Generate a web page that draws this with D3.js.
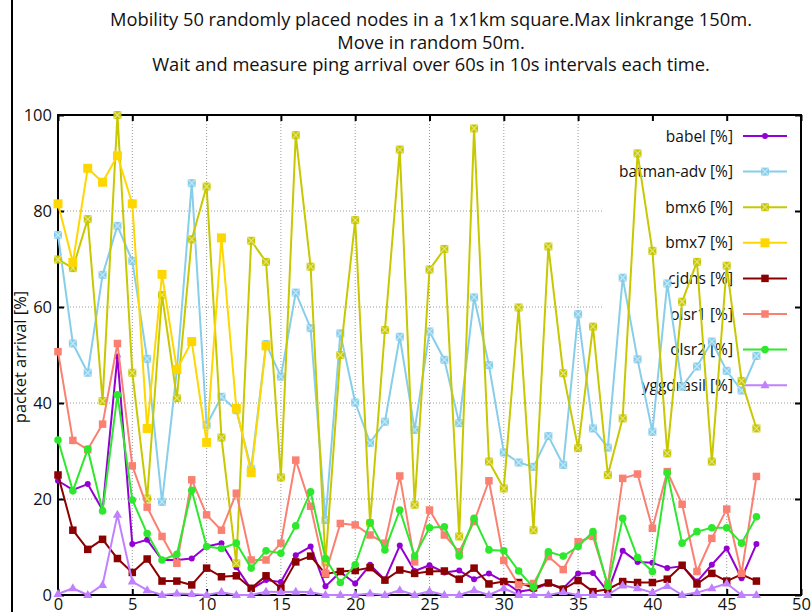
<!DOCTYPE html>
<html>
<head>
<meta charset="utf-8">
<script src="https://cdn.jsdelivr.net/npm/d3@7"></script>
<style>
  body { margin: 0; background: #fff; }
  text { font-family: "Open Sans", "DejaVu Sans", sans-serif; fill: #111; }
</style>
</head>
<body>
<svg id="chart" width="811" height="612"></svg>
<script>
// data (packet arrival in %)
var titleLines = [
  "Mobility 50 randomly placed nodes in a 1x1km square.Max linkrange 150m.",
  "Move in random 50m.",
  "Wait and measure ping arrival over 60s in 10s intervals each time."
];
var xTicks = [0, 5, 10, 15, 20, 25, 30, 35, 40, 45, 50];
var yTicks = [0, 20, 40, 60, 80, 100];

var babel = [23.8, 21.9, 23.1, 17.7, 49.7, 10.6, 11.5, 7.3, 7.3, 7.6, 10.1, 10.8, 5.8, 1.2, 3.1, 2.7,
  8.3, 10.1, 1.8, 4.8, 2.4, 6.3, 3.2, 10.3, 5.0, 6.2, 4.7, 5.1, 3.3, 4.5, 2.8, 0.7,
  1.2, 2.4, 1.4, 4.5, 4.6, 0.7, 9.2, 6.9, 6.7, 5.6, 6.0, 2.8, 6.3, 9.7, 3.5, 10.6];
var batman = [75, 52.4, 46.3, 66.7, 76.9, 69.6, 49.2, 19.4, 46.8, 85.8, 35.4, 41.3, 38.5, 26.3, 52.3, 45.5,
  63, 55.6, 15.6, 54.5, 40.1, 31.7, 36.1, 53.8, 34.4, 54.9, 49, 35.8, 62, 47.9, 29.7, 27.6,
  26.7, 33.1, 27.1, 58.5, 34.7, 30.7, 66.1, 49.1, 34, 64.9, 43.4, 47.6, 52.8, 46.7, 42.6, 49.8];
var bmx6 = [69.9, 68.1, 78.3, 40.4, 100, 46.3, 20.1, 62.5, 41, 74.1, 85.1, 32.8, 6.6, 73.8, 69.4, 24.5,
  95.8, 68.4, 6.8, 50, 78.1, 15, 55.2, 92.8, 18.8, 67.8, 72.1, 12.2, 97.2, 27.8, 22.2, 59.9,
  13.5, 72.6, 46.2, 30.6, 55.9, 25, 36.8, 92, 71.7, 29.5, 61.1, 69.4, 27.8, 68.6, 44.6, 34.7];
var bmx7 = [81.5, 69.3, 88.9, 86, 91.5, 81.5, 34.7, 66.8, 47, 52.8, 31.8, 74.4, 38.9, 25.5, 51.9];
var cjdns = [25, 13.5, 9.5, 11.6, 7.6, 4.7, 7.5, 2.9, 2.9, 2.1, 5.6, 3.8, 4, 1.4, 4, 1.4,
  6.9, 8.1, 4.4, 4.9, 5.1, 5.7, 3.1, 5.2, 4.5, 4.9, 5, 3.3, 5.6, 2.3, 2.8, 2.6,
  1.5, 2.5, 1.2, 3, 0.7, 1.2, 2.8, 2.6, 2.6, 3.3, 6.2, 2.3, 4.5, 2.9, 4.3, 2.9];
var olsr1 = [50.7, 32.2, 30.3, 35.6, 52.4, 26.9, 18.3, 12.2, 6.6, 24, 16.7, 13.5, 21.2, 7.3, 7.3, 10.8,
  28.1, 18.5, 4.5, 14.9, 14.6, 12.5, 10.8, 24.8, 6.9, 17.7, 12.5, 9, 15.3, 23.8, 7.2, 2.1,
  2.4, 8, 5.3, 11.1, 12.2, 2.2, 24.3, 25.2, 13.9, 25.7, 18.9, 4.9, 11.8, 17.9, 4.5, 24.7];
var olsr2 = [32.3, 21.7, 30.4, 17.5, 41.7, 19.8, 12.8, 7.3, 8.5, 21.8, 10.1, 9.7, 10.8, 5.6, 9.2, 8.7,
  14.4, 21.5, 7.6, 2.6, 6.3, 15.1, 9.4, 17.7, 8.1, 14, 14.2, 8.1, 16, 9.4, 9.2, 5,
  1.6, 9, 8.1, 10.1, 13.2, 1.8, 16, 7.8, 4.9, 25.5, 10.8, 13.2, 14, 14, 10.8, 16.3];
var yggdrasil = [0.2, 1.4, 0, 2.1, 16.7, 2.8, 1, 0, 0.3, 0.2, 0, 0.6, 0, 0, 0.7, 0.6,
  0.7, 0.6, 0, 0, 0, 0.3, 0, 1, 0, 0.8, 0, 0, 1, 0, 1.4, 0,
  0, 0, 0.6, 0, 0, 0, 2, 1.4, 0.5, 1.9, 0, 0.5, 1.4, 2.4, 0, 0];

var seriesNames = ["babel [%]", "batman-adv [%]", "bmx6 [%]", "bmx7 [%]", "cjdns [%]", "olsr1 [%]", "olsr2 [%]", "yggdrasil [%]"];
var seriesValues = [babel, batman, bmx6, bmx7, cjdns, olsr1, olsr2, yggdrasil];
var seriesColors = ["#9400d3", "#87ceeb", "#c8c800", "#ffd700", "#8b0000", "#fa8072", "#2ee82e", "#c080ff"];
var seriesMarks = ["circle", "xbox", "xbox", "bigsquare", "square", "square", "circle2", "triangle"];

var margin = { left: 58, right: 10, top: 115, bottom: 17 };
var W = 811, H = 612;

var svg = d3.select("#chart");

// outer frame line on the left
svg.append("line")
  .attr("x1", 12).attr("x2", 12).attr("y1", 0).attr("y2", H)
  .attr("stroke", "#000").attr("stroke-width", 2);

// title
svg.selectAll(".title").data(titleLines).enter().append("text")
  .attr("class", "title")
  .attr("x", 431)
  .attr("y", function(d, i) { return 26 + i * 22.5; })
  .attr("text-anchor", "middle")
  .attr("font-size", "18.3px")
  .text(function(d) { return d; });

// scales
var x = d3.scaleLinear().domain([0, 50]).range([margin.left, W - margin.right]);
var y = d3.scaleLinear().domain([0, 100]).range([H - margin.bottom, margin.top]);

// grid (left out behind the key)
var keyBox = { x0: 602, y1: 402 };
var grid = svg.append("g").attr("stroke", "#999").attr("stroke-width", 1).attr("stroke-dasharray", "1,2");
grid.selectAll(".vg").data(xTicks.slice(1, -1)).enter().append("line")
  .attr("x1", function(d) { return x(d); }).attr("x2", function(d) { return x(d); })
  .attr("y1", function(d) { return x(d) > keyBox.x0 ? keyBox.y1 : y(100); })
  .attr("y2", y(0));
grid.selectAll(".hg").data(yTicks.slice(1, -1)).enter().append("line")
  .attr("y1", function(d) { return y(d); }).attr("y2", function(d) { return y(d); })
  .attr("x1", x(0))
  .attr("x2", function(d) { return y(d) < keyBox.y1 ? keyBox.x0 : x(50); });

// axes
var xAxis = svg.append("g")
  .attr("transform", "translate(0," + y(0) + ")")
  .call(d3.axisBottom(x).tickValues(xTicks).tickSize(-6).tickPadding(3));
var xTop = svg.append("g")
  .attr("transform", "translate(0," + y(100) + ")")
  .call(d3.axisTop(x).tickValues(xTicks).tickSize(-6).tickFormat(""));
var yAxis = svg.append("g")
  .attr("transform", "translate(" + x(0) + ",0)")
  .call(d3.axisLeft(y).tickValues(yTicks).tickSize(-6).tickPadding(6));
var yRight = svg.append("g")
  .attr("transform", "translate(" + x(50) + ",0)")
  .call(d3.axisRight(y).tickValues(yTicks).tickSize(-6).tickFormat(""));

[xAxis, xTop, yAxis, yRight].forEach(function(a) {
  a.select(".domain").remove();
  a.selectAll(".tick line").attr("stroke", "#000").attr("stroke-width", 2);
  a.selectAll("text").attr("font-size", "16.5px").attr("font-family", "\"Open Sans\", sans-serif").attr("fill", "#222");
});

svg.append("rect")
  .attr("x", x(0)).attr("y", y(100))
  .attr("width", x(50) - x(0)).attr("height", y(0) - y(100))
  .attr("fill", "none").attr("stroke", "#000").attr("stroke-width", 2);

svg.append("text")
  .attr("transform", "translate(26," + (y(50) + 2) + ") rotate(-90)")
  .attr("text-anchor", "middle")
  .attr("font-size", "16.5px")
  .text("packet arrival [%]");

// marker drawing
function drawMarker(sel, kind, color) {
  if (kind === "circle" || kind === "circle2") {
    sel.append("circle").attr("r", kind === "circle" ? 3 : 3.8).attr("fill", color);
  } else if (kind === "triangle") {
    sel.append("path").attr("d", "M0,-5L4.6,3L-4.6,3Z").attr("fill", color);
  } else if (kind === "square" || kind === "bigsquare") {
    var s = kind === "bigsquare" ? 9 : 7.5;
    sel.append("rect").attr("x", -s / 2).attr("y", -s / 2).attr("width", s).attr("height", s).attr("fill", color);
  } else if (kind === "xbox") {
    sel.append("rect").attr("x", -4).attr("y", -4).attr("width", 8).attr("height", 8).attr("fill", color);
    sel.append("path").attr("d", "M-4,-4L4,4M4,-4L-4,4")
      .attr("stroke", "#fff").attr("stroke-opacity", 0.5).attr("stroke-width", 1.2);
  }
}

// key
var legend = svg.append("g");
seriesNames.forEach(function(name, i) {
  var row = legend.append("g").attr("transform", "translate(0," + (136 + i * 35.6) + ")");
  row.append("text")
    .attr("x", 733).attr("y", 5.5)
    .attr("text-anchor", "end")
    .attr("font-size", "15.5px")
    .text(name);
  row.append("line")
    .attr("x1", 743).attr("x2", 787)
    .attr("stroke", seriesColors[i]).attr("stroke-width", 2);
  drawMarker(row.append("g").attr("transform", "translate(765,0)"), seriesMarks[i], seriesColors[i]);
});

// series
var line = d3.line()
  .x(function(d, i) { return x(i); })
  .y(function(d) { return y(d); });

seriesValues.forEach(function(vals, k) {
  var g = svg.append("g");
  g.append("path")
    .datum(vals)
    .attr("d", line)
    .attr("fill", "none")
    .attr("stroke", seriesColors[k])
    .attr("stroke-width", 2)
    .attr("stroke-linejoin", "round");
  g.selectAll(".pt").data(vals).enter().append("g")
    .attr("transform", function(d, i) { return "translate(" + x(i) + "," + y(d) + ")"; })
    .each(function() { drawMarker(d3.select(this), seriesMarks[k], seriesColors[k]); });
});
</script>
</body>
</html>
